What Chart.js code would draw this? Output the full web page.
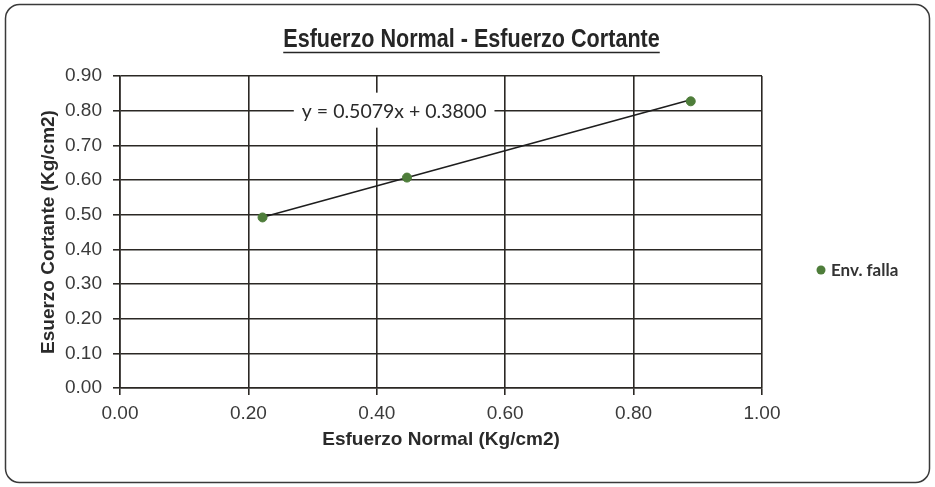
<!DOCTYPE html>
<html>
<head>
<meta charset="utf-8">
<script src="https://cdn.jsdelivr.net/npm/chart.js@4.4.1/dist/chart.umd.min.js"></script>
<style>
  html, body { margin: 0; padding: 0; background: #ffffff; }
  #wrap { width: 935px; height: 487px; position: relative; }
</style>
</head>
<body>
<div id="wrap"><canvas id="chart" width="935" height="487"></canvas></div>
<script>
// Ensayo de corte directo: esfuerzo normal vs esfuerzo cortante
const normalStress = [0.222, 0.447, 0.889];   // Kg/cm2
const shearStress  = [0.492, 0.607, 0.827];   // Kg/cm2
const seriesName = 'Env. falla';

// Recta de ajuste publicada en el gráfico
const trendSlope = 0.5079;
const trendIntercept = 0.3800;
const trendLabel = 'y = 0.5079x + 0.3800';

const yTicks = [0, 0.1, 0.2, 0.3, 0.4, 0.5, 0.6, 0.7, 0.8, 0.9];
const xTicks = [0, 0.2, 0.4, 0.6, 0.8, 1.0];

const chartTitle = 'Esfuerzo Normal - Esfuerzo Cortante';
const xTitle = 'Esfuerzo Normal (Kg/cm2)';
const yTitle = 'Esuerzo Cortante (Kg/cm2)';

const pointColor = '#4e7d3a';
const gridColor = '#2b2824';
const sans = '"Liberation Sans", Arial, sans-serif';
const humanist = 'Lato, "Open Sans", sans-serif';

const points = normalStress.map((x, i) => ({ x, y: shearStress[i] }));
const xMin = Math.min(...normalStress), xMax = Math.max(...normalStress);
const trend = [xMin, xMax].map(x => ({ x, y: trendSlope * x + trendIntercept }));

// Marco redondeado, título subrayado, leyenda y etiqueta de la ecuación
const decorations = {
  id: 'decorations',
  beforeDraw(chart) {
    const c = chart.ctx;
    c.save();
    c.fillStyle = '#ffffff';
    c.fillRect(0, 0, chart.width, chart.height);
    c.strokeStyle = '#3a3a3a';
    c.lineWidth = 1.5;
    c.beginPath();
    c.roundRect(5.5, 4.5, 924, 478, 14);
    c.stroke();
    c.restore();
  },
  afterDatasetsDraw(chart) {
    const c = chart.ctx;
    const xs = chart.scales.x, ys = chart.scales.y;
    c.save();

    // título condensado y subrayado
    const tx = 471.5, ty = 47, condense = 0.83;
    c.save();
    c.translate(tx, ty);
    c.scale(condense, 1);
    c.font = 'bold 26px ' + sans;
    c.fillStyle = '#262626';
    c.textAlign = 'center';
    c.textBaseline = 'alphabetic';
    c.fillText(chartTitle, 0, 0);
    const tw = c.measureText(chartTitle).width;
    c.strokeStyle = '#262626';
    c.lineWidth = 1.6;
    c.beginPath();
    c.moveTo(-tw / 2, 5.5);
    c.lineTo(tw / 2, 5.5);
    c.stroke();
    c.restore();

    // etiqueta de la ecuación
    c.font = '19.5px ' + humanist;
    c.textAlign = 'center';
    const ex = xs.getPixelForValue(0.427), ey = ys.getPixelForValue(0.8);
    const ew = c.measureText(trendLabel).width;
    c.fillStyle = '#ffffff';
    c.fillRect(ex - ew / 2 - 8, ey - 18, ew + 16, 35);
    c.fillStyle = '#2a2a2a';
    c.textBaseline = 'middle';
    c.fillText(trendLabel, ex, ey + 1);

    // leyenda
    c.fillStyle = pointColor;
    c.beginPath();
    c.arc(821, 270, 4.5, 0, Math.PI * 2);
    c.fill();
    c.fillStyle = '#333333';
    c.font = 'bold 17px ' + humanist;
    c.textAlign = 'left';
    c.fillText(seriesName, 831, 271);
    c.restore();
  }
};

new Chart(document.getElementById('chart'), {
  type: 'scatter',
  data: {
    datasets: [
      {
        label: 'Tendencia',
        type: 'line',
        data: trend,
        borderColor: '#1e1e1e',
        borderWidth: 1.6,
        pointRadius: 0,
        fill: false,
        order: 2
      },
      {
        label: seriesName,
        data: points,
        backgroundColor: pointColor,
        borderColor: pointColor,
        pointRadius: 4.5,
        pointHoverRadius: 4.5,
        order: 1
      }
    ]
  },
  plugins: [decorations],
  options: {
    responsive: false,
    animation: false,
    events: [],
    layout: { padding: { top: 76, right: 173, bottom: 36, left: 37 } },
    plugins: {
      legend: { display: false },
      tooltip: { enabled: false },
      title: { display: false }
    },
    scales: {
      x: {
        type: 'linear',
        min: 0, max: 1,
        afterBuildTicks(s) { s.ticks = xTicks.map(v => ({ value: v })); },
        afterFit(s) { s.height = 63; },
        grid: {
          color: gridColor, lineWidth: 1.6,
          drawTicks: true, tickLength: 7, tickColor: gridColor
        },
        border: { color: gridColor, width: 1.6 },
        ticks: {
          color: '#3a3a3a',
          font: { family: sans, size: 19 },
          padding: 7,
          callback: v => v.toFixed(2)
        },
        title: {
          display: true,
          text: xTitle,
          color: '#2a2a2a',
          font: { family: sans, size: 19, weight: 'bold' },
          padding: { top: 0, bottom: 0 }
        }
      },
      y: {
        type: 'linear',
        min: 0, max: 0.9,
        afterBuildTicks(s) { s.ticks = yTicks.map(v => ({ value: v })); },
        afterFit(s) { s.width = 83; },
        grid: {
          color: gridColor, lineWidth: 1.6,
          drawTicks: true, tickLength: 7, tickColor: gridColor
        },
        border: { color: gridColor, width: 1.6 },
        ticks: {
          color: '#3a3a3a',
          font: { family: sans, size: 19 },
          padding: 11,
          callback: v => v.toFixed(2)
        },
        title: {
          display: true,
          text: yTitle,
          color: '#2a2a2a',
          font: { family: sans, size: 19, weight: 'bold' },
          padding: { top: 0, bottom: 0 }
        }
      }
    }
  }
});
</script>
</body>
</html>
